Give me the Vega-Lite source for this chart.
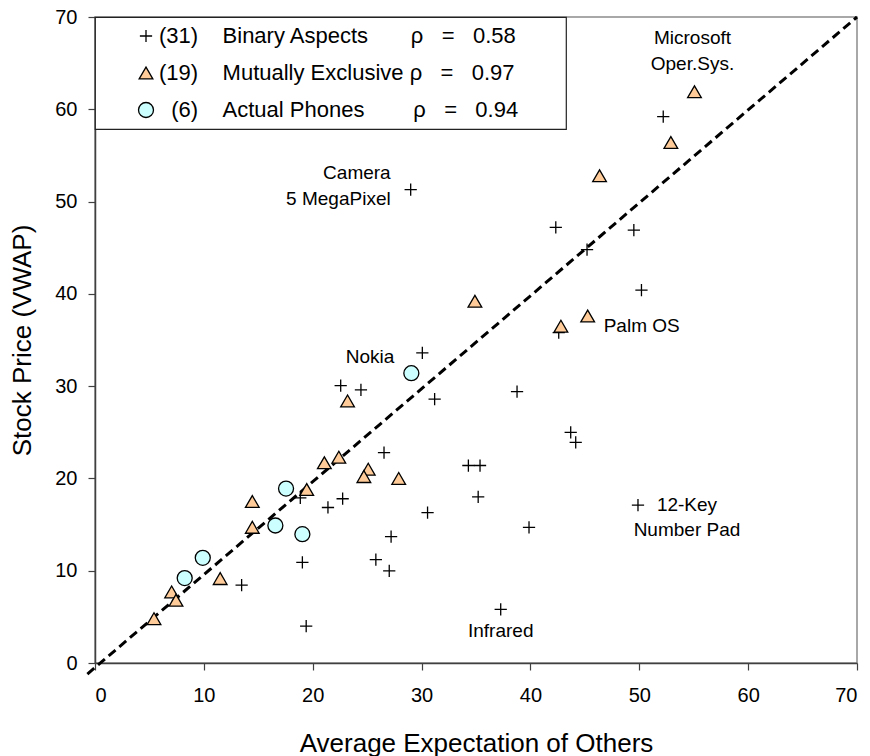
{
  "$schema": "https://vega.github.io/schema/vega-lite/v6.json",
  "width": 762,
  "height": 646,
  "autosize": {"type": "none"},
  "padding": {"left": 95, "top": 17, "right": 13, "bottom": 93},
  "background": "white",
  "config": {
    "font": "Liberation Sans",
    "view": {"stroke": "#8c8c8c", "strokeWidth": 1.5},
    "axis": {
      "domainColor": "#404040", "domainWidth": 1.5,
      "tickColor": "#404040", "tickWidth": 1.2, "tickSize": 7,
      "grid": false,
      "labelFont": "Liberation Sans", "labelFontSize": 20, "labelColor": "#000000",
      "titleFont": "Liberation Sans", "titleFontWeight": "normal", "titleColor": "#000000", "titleFontSize": 26
    },
    "legend": {
      "orient": "top-left", "offset": 0, "padding": 8,
      "strokeColor": "#222222", "strokeWidth": 1.2, "fillColor": "white",
      "labelFont": "Liberation Sans", "labelFontSize": 22, "labelColor": "#000000", "labelLimit": 1000,
      "symbolStrokeColor": "#000000", "symbolStrokeWidth": 1.3,
      "symbolOffset": 32, "labelOffset": 2, "rowPadding": 15
    }
  },
  "datasets": {
    "fit": [{"x": -0.7, "y": -1.2}, {"x": 70, "y": 70}],
    "pts": [
      {"g": "Binary Aspects", "x": 13.47, "y": 8.43},
      {"g": "Binary Aspects", "x": 19.05, "y": 10.9},
      {"g": "Binary Aspects", "x": 19.4, "y": 4.0},
      {"g": "Binary Aspects", "x": 18.86, "y": 17.9},
      {"g": "Binary Aspects", "x": 21.4, "y": 16.85},
      {"g": "Binary Aspects", "x": 22.75, "y": 17.8},
      {"g": "Binary Aspects", "x": 26.55, "y": 22.8},
      {"g": "Binary Aspects", "x": 30.55, "y": 16.3},
      {"g": "Binary Aspects", "x": 27.2, "y": 13.7},
      {"g": "Binary Aspects", "x": 25.8, "y": 11.2},
      {"g": "Binary Aspects", "x": 27.03, "y": 9.98},
      {"g": "Binary Aspects", "x": 43.7, "y": 25.0},
      {"g": "Binary Aspects", "x": 44.16, "y": 23.9},
      {"g": "Binary Aspects", "x": 34.3, "y": 21.4},
      {"g": "Binary Aspects", "x": 35.37, "y": 21.4},
      {"g": "Binary Aspects", "x": 35.2, "y": 18.0},
      {"g": "Binary Aspects", "x": 39.87, "y": 14.7},
      {"g": "Binary Aspects", "x": 37.27, "y": 5.8, "label": "Infrared"},
      {"g": "Binary Aspects", "x": 49.88, "y": 17.1, "label": "12-Key\nNumber Pad"},
      {"g": "Binary Aspects", "x": 29.0, "y": 51.3, "label": "Camera\n5 MegaPixel"},
      {"g": "Binary Aspects", "x": 30.07, "y": 33.6},
      {"g": "Binary Aspects", "x": 22.57, "y": 30.05},
      {"g": "Binary Aspects", "x": 24.43, "y": 29.6},
      {"g": "Binary Aspects", "x": 31.2, "y": 28.6},
      {"g": "Binary Aspects", "x": 52.2, "y": 59.2},
      {"g": "Binary Aspects", "x": 42.33, "y": 47.2},
      {"g": "Binary Aspects", "x": 49.5, "y": 46.9},
      {"g": "Binary Aspects", "x": 45.2, "y": 44.8},
      {"g": "Binary Aspects", "x": 50.2, "y": 40.4},
      {"g": "Binary Aspects", "x": 42.6, "y": 35.8},
      {"g": "Binary Aspects", "x": 38.77, "y": 29.4},
      {"g": "Mutually Exclusive", "x": 5.42, "y": 4.8},
      {"g": "Mutually Exclusive", "x": 7.04, "y": 7.7},
      {"g": "Mutually Exclusive", "x": 7.44, "y": 6.8},
      {"g": "Mutually Exclusive", "x": 11.5, "y": 9.15},
      {"g": "Mutually Exclusive", "x": 14.45, "y": 17.5},
      {"g": "Mutually Exclusive", "x": 14.45, "y": 14.7},
      {"g": "Mutually Exclusive", "x": 19.45, "y": 18.8},
      {"g": "Mutually Exclusive", "x": 21.07, "y": 21.7},
      {"g": "Mutually Exclusive", "x": 22.4, "y": 22.3},
      {"g": "Mutually Exclusive", "x": 25.1, "y": 21.0},
      {"g": "Mutually Exclusive", "x": 24.7, "y": 20.2},
      {"g": "Mutually Exclusive", "x": 27.9, "y": 20.0},
      {"g": "Mutually Exclusive", "x": 23.2, "y": 28.4},
      {"g": "Mutually Exclusive", "x": 34.9, "y": 39.2},
      {"g": "Mutually Exclusive", "x": 55.07, "y": 61.9, "label": "Microsoft\nOper.Sys."},
      {"g": "Mutually Exclusive", "x": 52.9, "y": 56.4},
      {"g": "Mutually Exclusive", "x": 46.35, "y": 52.8},
      {"g": "Mutually Exclusive", "x": 45.26, "y": 37.6, "label": "Palm OS"},
      {"g": "Mutually Exclusive", "x": 42.8, "y": 36.5},
      {"g": "Actual Phones", "x": 8.24, "y": 9.2},
      {"g": "Actual Phones", "x": 9.9, "y": 11.4},
      {"g": "Actual Phones", "x": 16.57, "y": 14.9},
      {"g": "Actual Phones", "x": 17.55, "y": 18.9},
      {"g": "Actual Phones", "x": 19.05, "y": 13.96},
      {"g": "Actual Phones", "x": 29.06, "y": 31.4, "label": "Nokia"}
    ]
  },
  "layer": [
    {
      "data": {"name": "fit"},
      "mark": {"type": "line", "stroke": "#000000", "strokeWidth": 3, "strokeDash": [9, 5]},
      "encoding": {
        "x": {"field": "x", "type": "quantitative", "scale": {"domain": [0, 70], "nice": false, "zero": false},
              "axis": {"values": [0, 10, 20, 30, 40, 50, 60, 70], "labelPadding": 15, "title": "Average Expectation of Others", "titlePadding": 25}},
        "y": {"field": "y", "type": "quantitative", "scale": {"domain": [0, 70], "nice": false, "zero": false},
              "axis": {"values": [0, 10, 20, 30, 40, 50, 60, 70], "labelPadding": 11, "title": "Stock Price (VWAP)", "titlePadding": 19}}
      }
    },
    {
      "data": {"name": "pts"},
      "mark": {"type": "point", "filled": true, "strokeWidth": 1.3, "opacity": 1},
      "encoding": {
        "x": {"field": "x", "type": "quantitative"},
        "y": {"field": "y", "type": "quantitative"},
        "shape": {"field": "g", "type": "nominal", "title": null,
                  "scale": {"domain": ["Binary Aspects", "Mutually Exclusive", "Actual Phones"], "range": ["M-1,0H1M0,-1V1", "triangle-up", "circle"]},
                  "legend": {"title": null,
                             "labelExpr": "datum.label == 'Binary Aspects' ? '(31)\u00a0\u00a0\u00a0\u00a0Binary Aspects\u00a0\u00a0\u00a0\u00a0\u00a0\u00a0\u00a0ρ\u00a0\u00a0\u00a0=\u00a0\u00a0\u00a00.58' : datum.label == 'Mutually Exclusive' ? '(19)\u00a0\u00a0\u00a0\u00a0Mutually Exclusive\u00a0ρ\u00a0\u00a0\u00a0=\u00a0\u00a0\u00a00.97\u00a0\u00a0\u00a0\u00a0\u00a0\u00a0\u00a0\u200b' : '\u200b\u00a0\u00a0(6)\u00a0\u00a0\u00a0\u00a0Actual Phones\u00a0\u00a0\u00a0\u00a0\u00a0\u00a0\u00a0\u00a0ρ\u00a0\u00a0\u00a0=\u00a0\u00a0\u00a00.94'"}},
        "fill": {"field": "g", "type": "nominal", "title": null,
                 "scale": {"domain": ["Binary Aspects", "Mutually Exclusive", "Actual Phones"], "range": ["transparent", "#FFCC99", "#CCFFFF"]},
                 "legend": {"title": null,
                            "labelExpr": "datum.label == 'Binary Aspects' ? '(31)\u00a0\u00a0\u00a0\u00a0Binary Aspects\u00a0\u00a0\u00a0\u00a0\u00a0\u00a0\u00a0ρ\u00a0\u00a0\u00a0=\u00a0\u00a0\u00a00.58' : datum.label == 'Mutually Exclusive' ? '(19)\u00a0\u00a0\u00a0\u00a0Mutually Exclusive\u00a0ρ\u00a0\u00a0\u00a0=\u00a0\u00a0\u00a00.97\u00a0\u00a0\u00a0\u00a0\u00a0\u00a0\u00a0\u200b' : '\u200b\u00a0\u00a0(6)\u00a0\u00a0\u00a0\u00a0Actual Phones\u00a0\u00a0\u00a0\u00a0\u00a0\u00a0\u00a0\u00a0ρ\u00a0\u00a0\u00a0=\u00a0\u00a0\u00a00.94'"}},
        "stroke": {"field": "g", "type": "nominal", "title": null,
                   "scale": {"domain": ["Binary Aspects", "Mutually Exclusive", "Actual Phones"], "range": ["#000000", "#000000", "#000000"]},
                   "legend": {"title": null,
                              "labelExpr": "datum.label == 'Binary Aspects' ? '(31)\u00a0\u00a0\u00a0\u00a0Binary Aspects\u00a0\u00a0\u00a0\u00a0\u00a0\u00a0\u00a0ρ\u00a0\u00a0\u00a0=\u00a0\u00a0\u00a00.58' : datum.label == 'Mutually Exclusive' ? '(19)\u00a0\u00a0\u00a0\u00a0Mutually Exclusive\u00a0ρ\u00a0\u00a0\u00a0=\u00a0\u00a0\u00a00.97\u00a0\u00a0\u00a0\u00a0\u00a0\u00a0\u00a0\u200b' : '\u200b\u00a0\u00a0(6)\u00a0\u00a0\u00a0\u00a0Actual Phones\u00a0\u00a0\u00a0\u00a0\u00a0\u00a0\u00a0\u00a0ρ\u00a0\u00a0\u00a0=\u00a0\u00a0\u00a00.94'"}},
        "size": {"field": "g", "type": "nominal", "title": null,
                 "scale": {"domain": ["Binary Aspects", "Mutually Exclusive", "Actual Phones"], "range": [150, 225, 300]},
                 "legend": {"title": null,
                            "labelExpr": "datum.label == 'Binary Aspects' ? '(31)\u00a0\u00a0\u00a0\u00a0Binary Aspects\u00a0\u00a0\u00a0\u00a0\u00a0\u00a0\u00a0ρ\u00a0\u00a0\u00a0=\u00a0\u00a0\u00a00.58' : datum.label == 'Mutually Exclusive' ? '(19)\u00a0\u00a0\u00a0\u00a0Mutually Exclusive\u00a0ρ\u00a0\u00a0\u00a0=\u00a0\u00a0\u00a00.97\u00a0\u00a0\u00a0\u00a0\u00a0\u00a0\u00a0\u200b' : '\u200b\u00a0\u00a0(6)\u00a0\u00a0\u00a0\u00a0Actual Phones\u00a0\u00a0\u00a0\u00a0\u00a0\u00a0\u00a0\u00a0ρ\u00a0\u00a0\u00a0=\u00a0\u00a0\u00a00.94'"}}
      }
    },
    {
      "data": {"name": "pts"},
      "transform": [{"filter": "datum.label && test(/^Camera/, datum.label)"}],
      "mark": {"type": "text", "align": "right", "baseline": "middle", "dx": -20, "dy": -17, "fontSize": 19, "lineHeight": 26, "lineBreak": "\n", "color": "#000000"},
      "encoding": {"x": {"field": "x", "type": "quantitative"}, "y": {"field": "y", "type": "quantitative"}, "text": {"field": "label"}}
    },
    {
      "data": {"name": "pts"},
      "transform": [{"filter": "datum.label && test(/^Microsoft/, datum.label)"}],
      "mark": {"type": "text", "align": "center", "baseline": "middle", "dx": -2, "dy": -54, "fontSize": 19, "lineHeight": 26, "lineBreak": "\n", "color": "#000000"},
      "encoding": {"x": {"field": "x", "type": "quantitative"}, "y": {"field": "y", "type": "quantitative"}, "text": {"field": "label"}}
    },
    {
      "data": {"name": "pts"},
      "transform": [{"filter": "datum.label == 'Nokia'"}],
      "mark": {"type": "text", "align": "right", "baseline": "middle", "dx": -17, "dy": -16, "fontSize": 19, "color": "#000000"},
      "encoding": {"x": {"field": "x", "type": "quantitative"}, "y": {"field": "y", "type": "quantitative"}, "text": {"field": "label"}}
    },
    {
      "data": {"name": "pts"},
      "transform": [{"filter": "datum.label == 'Palm OS'"}],
      "mark": {"type": "text", "align": "left", "baseline": "middle", "dx": 16, "dy": 10, "fontSize": 19, "color": "#000000"},
      "encoding": {"x": {"field": "x", "type": "quantitative"}, "y": {"field": "y", "type": "quantitative"}, "text": {"field": "label"}}
    },
    {
      "data": {"name": "pts"},
      "transform": [{"filter": "datum.label && test(/^12-Key/, datum.label)"}],
      "mark": {"type": "text", "align": "center", "baseline": "middle", "dx": 49, "dy": 0, "fontSize": 19, "lineHeight": 25, "lineBreak": "\n", "color": "#000000"},
      "encoding": {"x": {"field": "x", "type": "quantitative"}, "y": {"field": "y", "type": "quantitative"}, "text": {"field": "label"}}
    },
    {
      "data": {"name": "pts"},
      "transform": [{"filter": "datum.label == 'Infrared'"}],
      "mark": {"type": "text", "align": "center", "baseline": "middle", "dy": 22, "fontSize": 19, "color": "#000000"},
      "encoding": {"x": {"field": "x", "type": "quantitative"}, "y": {"field": "y", "type": "quantitative"}, "text": {"field": "label"}}
    }
  ]
}
